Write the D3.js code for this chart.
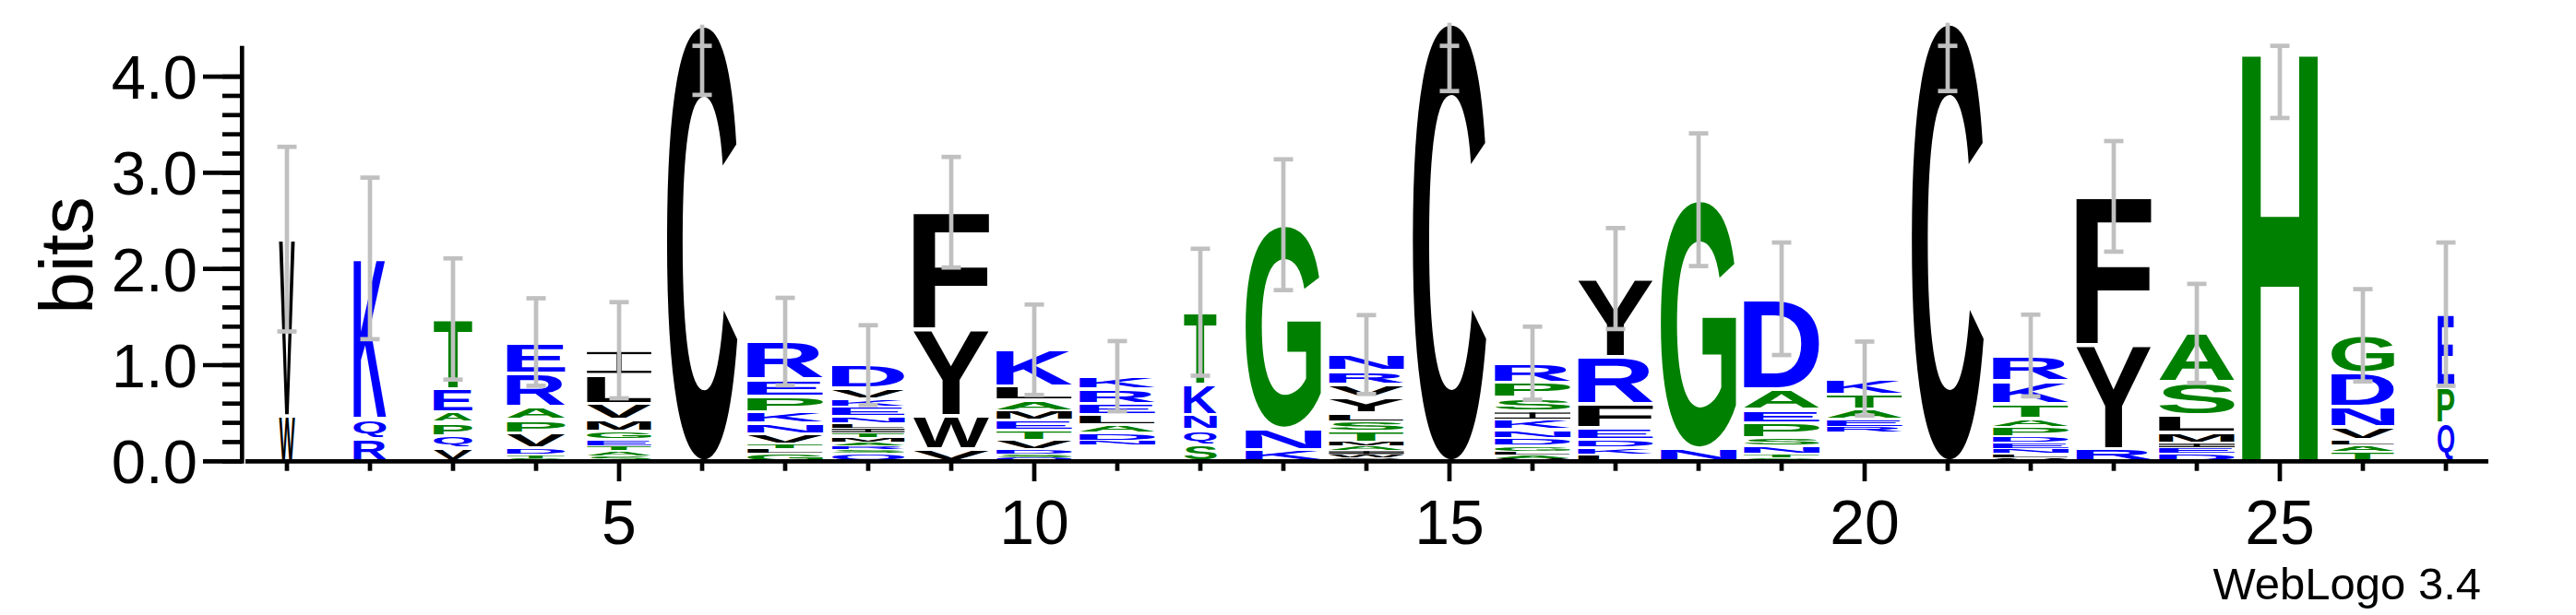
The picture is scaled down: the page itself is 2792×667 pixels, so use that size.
<!DOCTYPE html>
<html>
<head>
<meta charset="utf-8">
<script src="https://cdn.jsdelivr.net/npm/d3@7"></script>
<style>
  html, body { margin: 0; padding: 0; background: #ffffff; }
  svg { display: block; }
</style>
</head>
<body>
<div id="chart"></div>
<script>
const positions = d3.range(1, 28);
// letters of each stack, bottom -> top
const stackLetters = [
  "WV", "RQK", "VQPAET", "STDVPARE", "SATEGMVLI", "C", "GLTVNKPER",
  "QSRAMTILNEKVD", "VWYF", "QSDVTEMALK", "NDALERK", "SQNKT", "KNG",
  "CWIAMTSLYVRN", "C", "VALGDNKISPR", "LKDEFRY", "NG", "GTNSPEAD",
  "REATK", "C", "VLNEDPATKR", "RYF", "DEIMLSA", "H", "TALVNDG", "QPE"
];
// height (bits) of each letter, bottom -> top
const stackBits = [
  [0.47, 1.84],
  [0.24, 0.20, 1.67],
  [0.14, 0.125, 0.14, 0.11, 0.24, 0.725],
  [0.03, 0.035, 0.07, 0.16, 0.135, 0.14, 0.345, 0.325],
  [0.05, 0.055, 0.055, 0.07, 0.08, 0.12, 0.17, 0.30, 0.255],
  [4.54],
  [0.08, 0.05, 0.05, 0.105, 0.11, 0.115, 0.165, 0.175, 0.395],
  [0.08, 0.04, 0.04, 0.04, 0.045, 0.05, 0.05, 0.045, 0.075, 0.095, 0.09, 0.11, 0.24],
  [0.125, 0.345, 0.90, 1.22],
  [0.04, 0.035, 0.045, 0.095, 0.11, 0.105, 0.095, 0.11, 0.145, 0.38],
  [0.045, 0.085, 0.08, 0.11, 0.115, 0.15, 0.135],
  [0.17, 0.155, 0.155, 0.32, 0.75],
  [0.12, 0.22, 2.12],
  [0.035, 0.035, 0.04, 0.045, 0.045, 0.115, 0.10, 0.085, 0.16, 0.14, 0.14, 0.17],
  [4.56],
  [0.03, 0.035, 0.035, 0.06, 0.08, 0.09, 0.10, 0.09, 0.14, 0.16, 0.20],
  [0.07, 0.07, 0.08, 0.125, 0.245, 0.50, 0.81],
  [0.135, 2.585],
  [0.04, 0.04, 0.08, 0.08, 0.16, 0.14, 0.215, 0.935],
  [0.06, 0.08, 0.10, 0.155, 0.165],
  [4.56],
  [0.04, 0.04, 0.05, 0.06, 0.065, 0.10, 0.09, 0.15, 0.24, 0.265],
  [0.13, 1.08, 1.545],
  [0.08, 0.06, 0.05, 0.11, 0.18, 0.34, 0.51],
  [4.27],
  [0.10, 0.065, 0.055, 0.14, 0.205, 0.355, 0.39],
  [0.40, 0.37, 0.76]
];
// bottom of the visible stack (bits)
const stackBase = [0,0,0,0,0,0,0,0,0,0,0.165,0,0,0,0,0,0,0,0,0.30,0,0,0,0,0,0,0];
// relative stack width (fraction of a full column)
const columnWidth = [0.21,0.43,0.51,0.77,0.85,0.93,1,0.96,1,1,1,0.43,1,0.99,0.97,1,0.99,1,1,1,0.95,1,0.99,1,1,0.83,0.22];
// error bar half-range (bits)
const errorHalf = [0.96,0.84,0.63,0.455,0.5,0.73,0.455,0.415,0.575,0.47,0.365,0.66,0.68,0.41,0.71,0.38,0.525,0.69,0.585,0.385,0.71,0.425,0.575,0.515,0.70,0.48,0.745];

const yTickValues = [0, 1, 2, 3, 4];
const yTickLabels = ["0.0", "1.0", "2.0", "3.0", "4.0"];
const xTickValues = [5, 10, 15, 20, 25];
const yMaxBits = 4.32;
const yAxisTitle = "bits";
const creditText = "WebLogo 3.4";

const hydrophilic = "RKDENQ";   // blue
const neutral = "SGHTAP";       // green
// everything else: hydrophobic (black)
function letterColor(ch) {
  if (hydrophilic.includes(ch)) return "#0000ff";
  if (neutral.includes(ch)) return "#008000";
  return "#000000";
}

// ---------------- LAYOUT ----------------
const W = 2792, H = 667;
const svg = d3.select("#chart").append("svg").attr("width", W).attr("height", H)
  .style("background", "#ffffff");

const x = d3.scaleLinear().domain([0.5, 27.5]).range([266, 2696]);
const y = d3.scaleLinear().domain([0, yMaxBits]).range([500.3, 500.3 - yMaxBits * 104.3]);
const step = x(2) - x(1);
const fullStack = 82;

const FONT = '"Liberation Sans", Arial, Helvetica, sans-serif';
const canvas = document.createElement("canvas");
const ctx = canvas.getContext("2d");
ctx.font = 'bold 200px "Liberation Sans", Arial, sans-serif';
ctx.textAlign = "left";
ctx.textBaseline = "alphabetic";
const gcache = {};
function glyph(ch) {
  if (!gcache[ch]) {
    const m = ctx.measureText(ch);
    gcache[ch] = { l: m.actualBoundingBoxLeft, r: m.actualBoundingBoxRight,
                   a: m.actualBoundingBoxAscent, d: m.actualBoundingBoxDescent };
  }
  return gcache[ch];
}

// ---------------- STACKS ----------------
const gLetters = svg.append("g");
positions.forEach((p, i) => {
  const letters = stackLetters[i].split("");
  const bits = stackBits[i];
  const w = fullStack * columnWidth[i];
  const x0 = x(p) - w / 2;
  let acc = stackBase[i];
  letters.forEach((ch, j) => {
    const b0 = acc, b1 = acc + bits[j];
    acc = b1;
    const yTop = y(b1), yBot = y(b0);
    const hpx = yBot - yTop;
    const pad = Math.min(2, hpx * 0.15);
    const gy = yTop + pad, gh = hpx - 2 * pad;
    const col = letterColor(ch);
    if (gh <= 0) return;
    if (ch === "I") {
      const bar = Math.max(1.2, gh * 0.1);
      const stem = Math.max(1.5, w * 0.08);
      gLetters.append("rect").attr("x", x0).attr("y", gy).attr("width", w).attr("height", bar).attr("fill", col);
      gLetters.append("rect").attr("x", x0).attr("y", gy + gh - bar).attr("width", w).attr("height", bar).attr("fill", col);
      gLetters.append("rect").attr("x", x(p) - stem / 2).attr("y", gy).attr("width", stem).attr("height", gh).attr("fill", col);
      return;
    }
    const m = glyph(ch);
    const sx = w / (m.l + m.r), sy = gh / (m.a + m.d);
    gLetters.append("text")
      .text(ch)
      .attr("font-family", FONT)
      .attr("font-weight", "bold")
      .attr("font-size", 200)
      .attr("fill", col)
      .attr("transform", `translate(${x0},${gy}) scale(${sx},${sy}) translate(${m.l},${m.a})`);
  });
});

// ---------------- ERROR BARS ----------------
const gErr = svg.append("g").attr("stroke", "#c0c0c0").attr("stroke-width", 4.7);
positions.forEach((p, i) => {
  const top = stackBase[i] + d3.sum(stackBits[i]);
  const lo = top - errorHalf[i];
  const hi = Math.min(top + errorHalf[i], yMaxBits);
  const cx = x(p);
  gErr.append("line").attr("x1", cx).attr("x2", cx).attr("y1", y(lo)).attr("y2", y(Math.max(hi, top)));
  gErr.append("line").attr("x1", cx - 10.5).attr("x2", cx + 10.5).attr("y1", y(lo)).attr("y2", y(lo));
  gErr.append("line").attr("x1", cx - 10.5).attr("x2", cx + 10.5).attr("y1", y(hi)).attr("y2", y(hi));
});

// ---------------- AXES ----------------
const axisStroke = 4.7;
// y axis line
svg.append("line").attr("x1", 262.3).attr("x2", 262.3).attr("y1", y(yMaxBits)).attr("y2", 502.7)
  .attr("stroke", "#000").attr("stroke-width", axisStroke);
// y ticks (minor every 0.2)
const minorY = d3.range(0, 21).map(k => k * 0.2).filter(v => v <= yMaxBits + 1e-9);
svg.append("g").selectAll("line").data(minorY).join("line")
  .attr("x1", 241).attr("x2", 262).attr("y1", d => y(d)).attr("y2", d => y(d))
  .attr("stroke", "#000").attr("stroke-width", axisStroke);
svg.append("g").selectAll("line").data(yTickValues).join("line")
  .attr("x1", 220).attr("x2", 262).attr("y1", d => y(d)).attr("y2", d => y(d))
  .attr("stroke", "#000").attr("stroke-width", axisStroke);
svg.append("g").selectAll("text").data(yTickValues).join("text")
  .attr("x", 214).attr("y", d => y(d) + 24)
  .attr("text-anchor", "end")
  .attr("font-family", FONT).attr("font-size", 67).attr("fill", "#000")
  .text((d, k) => yTickLabels[k]);

// x axis line
svg.append("line").attr("x1", 266).attr("x2", 2697).attr("y1", 500.3).attr("y2", 500.3)
  .attr("stroke", "#000").attr("stroke-width", axisStroke);
svg.append("g").selectAll("line").data(positions).join("line")
  .attr("x1", d => x(d)).attr("x2", d => x(d))
  .attr("y1", 500.3).attr("y2", d => xTickValues.includes(d) ? 522 : 510.7)
  .attr("stroke", "#000").attr("stroke-width", axisStroke);
svg.append("g").selectAll("text").data(xTickValues).join("text")
  .attr("x", d => x(d)).attr("y", 590)
  .attr("text-anchor", "middle")
  .attr("font-family", FONT).attr("font-size", 68).attr("fill", "#000")
  .text(d => String(d));

// y axis title
svg.append("text")
  .attr("transform", "translate(100,277) rotate(-90)")
  .attr("text-anchor", "middle")
  .attr("font-family", FONT).attr("font-size", 82).attr("fill", "#000")
  .text(yAxisTitle);

// credit
svg.append("text")
  .attr("x", 2689).attr("y", 650)
  .attr("text-anchor", "end")
  .attr("font-family", FONT).attr("font-size", 49).attr("fill", "#000")
  .text(creditText);
</script>
</body>
</html>
